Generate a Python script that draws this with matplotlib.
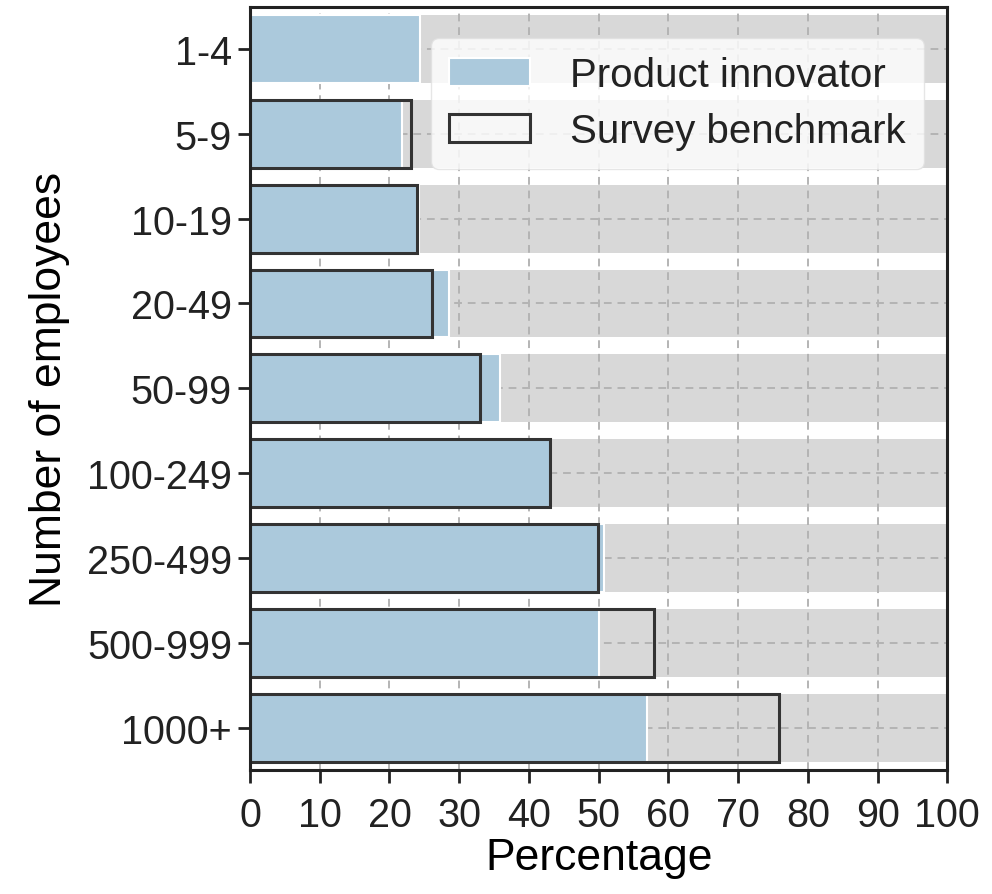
import matplotlib
matplotlib.use("Agg")
import matplotlib.pyplot as plt
import numpy as np

# Firm size classes, top to bottom
size_classes = ["1-4", "5-9", "10-19", "20-49", "50-99",
                "100-249", "250-499", "500-999", "1000+"]
# Share of product innovators per size class (%)
innovator_pct = [24.4, 21.8, 24.3, 28.6, 35.8, 43.2, 50.8, 50.0, 57.0]
# Survey benchmark per size class (%), none for the smallest class
benchmark_pct = [np.nan, 23.1, 23.9, 26.1, 33.0, 43.0, 49.9, 57.9, 75.9]

plt.rcParams["font.family"] = ["Liberation Sans", "DejaVu Sans"]
plt.rcParams["font.size"] = 28.5

fig = plt.figure(figsize=(9.92, 8.95), dpi=100)
ax = fig.add_axes([0.252, 0.1385, 0.703, 0.853])

y = np.arange(len(size_classes))
bar_h = 0.8

# grey track behind every row
ax.barh(y, [100] * len(y), height=bar_h, color="#d8d8d8", zorder=0.2)
ax.barh(y, innovator_pct, height=bar_h, color="#abc9dc",
        edgecolor="white", linewidth=1.5, zorder=1, label="Product innovator")
ax.barh(y, benchmark_pct, height=bar_h, facecolor="none",
        edgecolor="#333333", linewidth=2.2, zorder=2, label="Survey benchmark")

ax.set_axisbelow(True)
ax.grid(True, linestyle=(0, (4, 3)), color="#b4b4b4", linewidth=1.4, zorder=0.5)

ax.set_xlim(0, 100)
ax.set_ylim(len(y) - 0.5, -0.5)
ax.set_xticks(np.arange(0, 101, 10))
ax.set_yticks(y)
ax.set_yticklabels(size_classes)
ax.set_xlabel("Percentage", fontsize=32, labelpad=2)
ax.set_ylabel("Number of employees", fontsize=32, labelpad=12)

for side in ax.spines.values():
    side.set_linewidth(2.2)
    side.set_color("#222222")
ax.tick_params(axis="both", length=9, width=2, color="#222222",
               labelcolor="#222222")
ax.tick_params(axis="x", pad=10)
ax.tick_params(axis="y", pad=4)

leg = ax.legend(loc="upper right", fontsize=29, frameon=True, fancybox=True,
                framealpha=0.8, edgecolor="#e0e0e0", borderpad=0.45,
                labelspacing=0.45, handletextpad=1.0,
                bbox_to_anchor=(0.995, 0.985))
leg.get_frame().set_facecolor("white")
for t in leg.get_texts():
    t.set_color("#222222")

fig.savefig("out.png", dpi=100)
